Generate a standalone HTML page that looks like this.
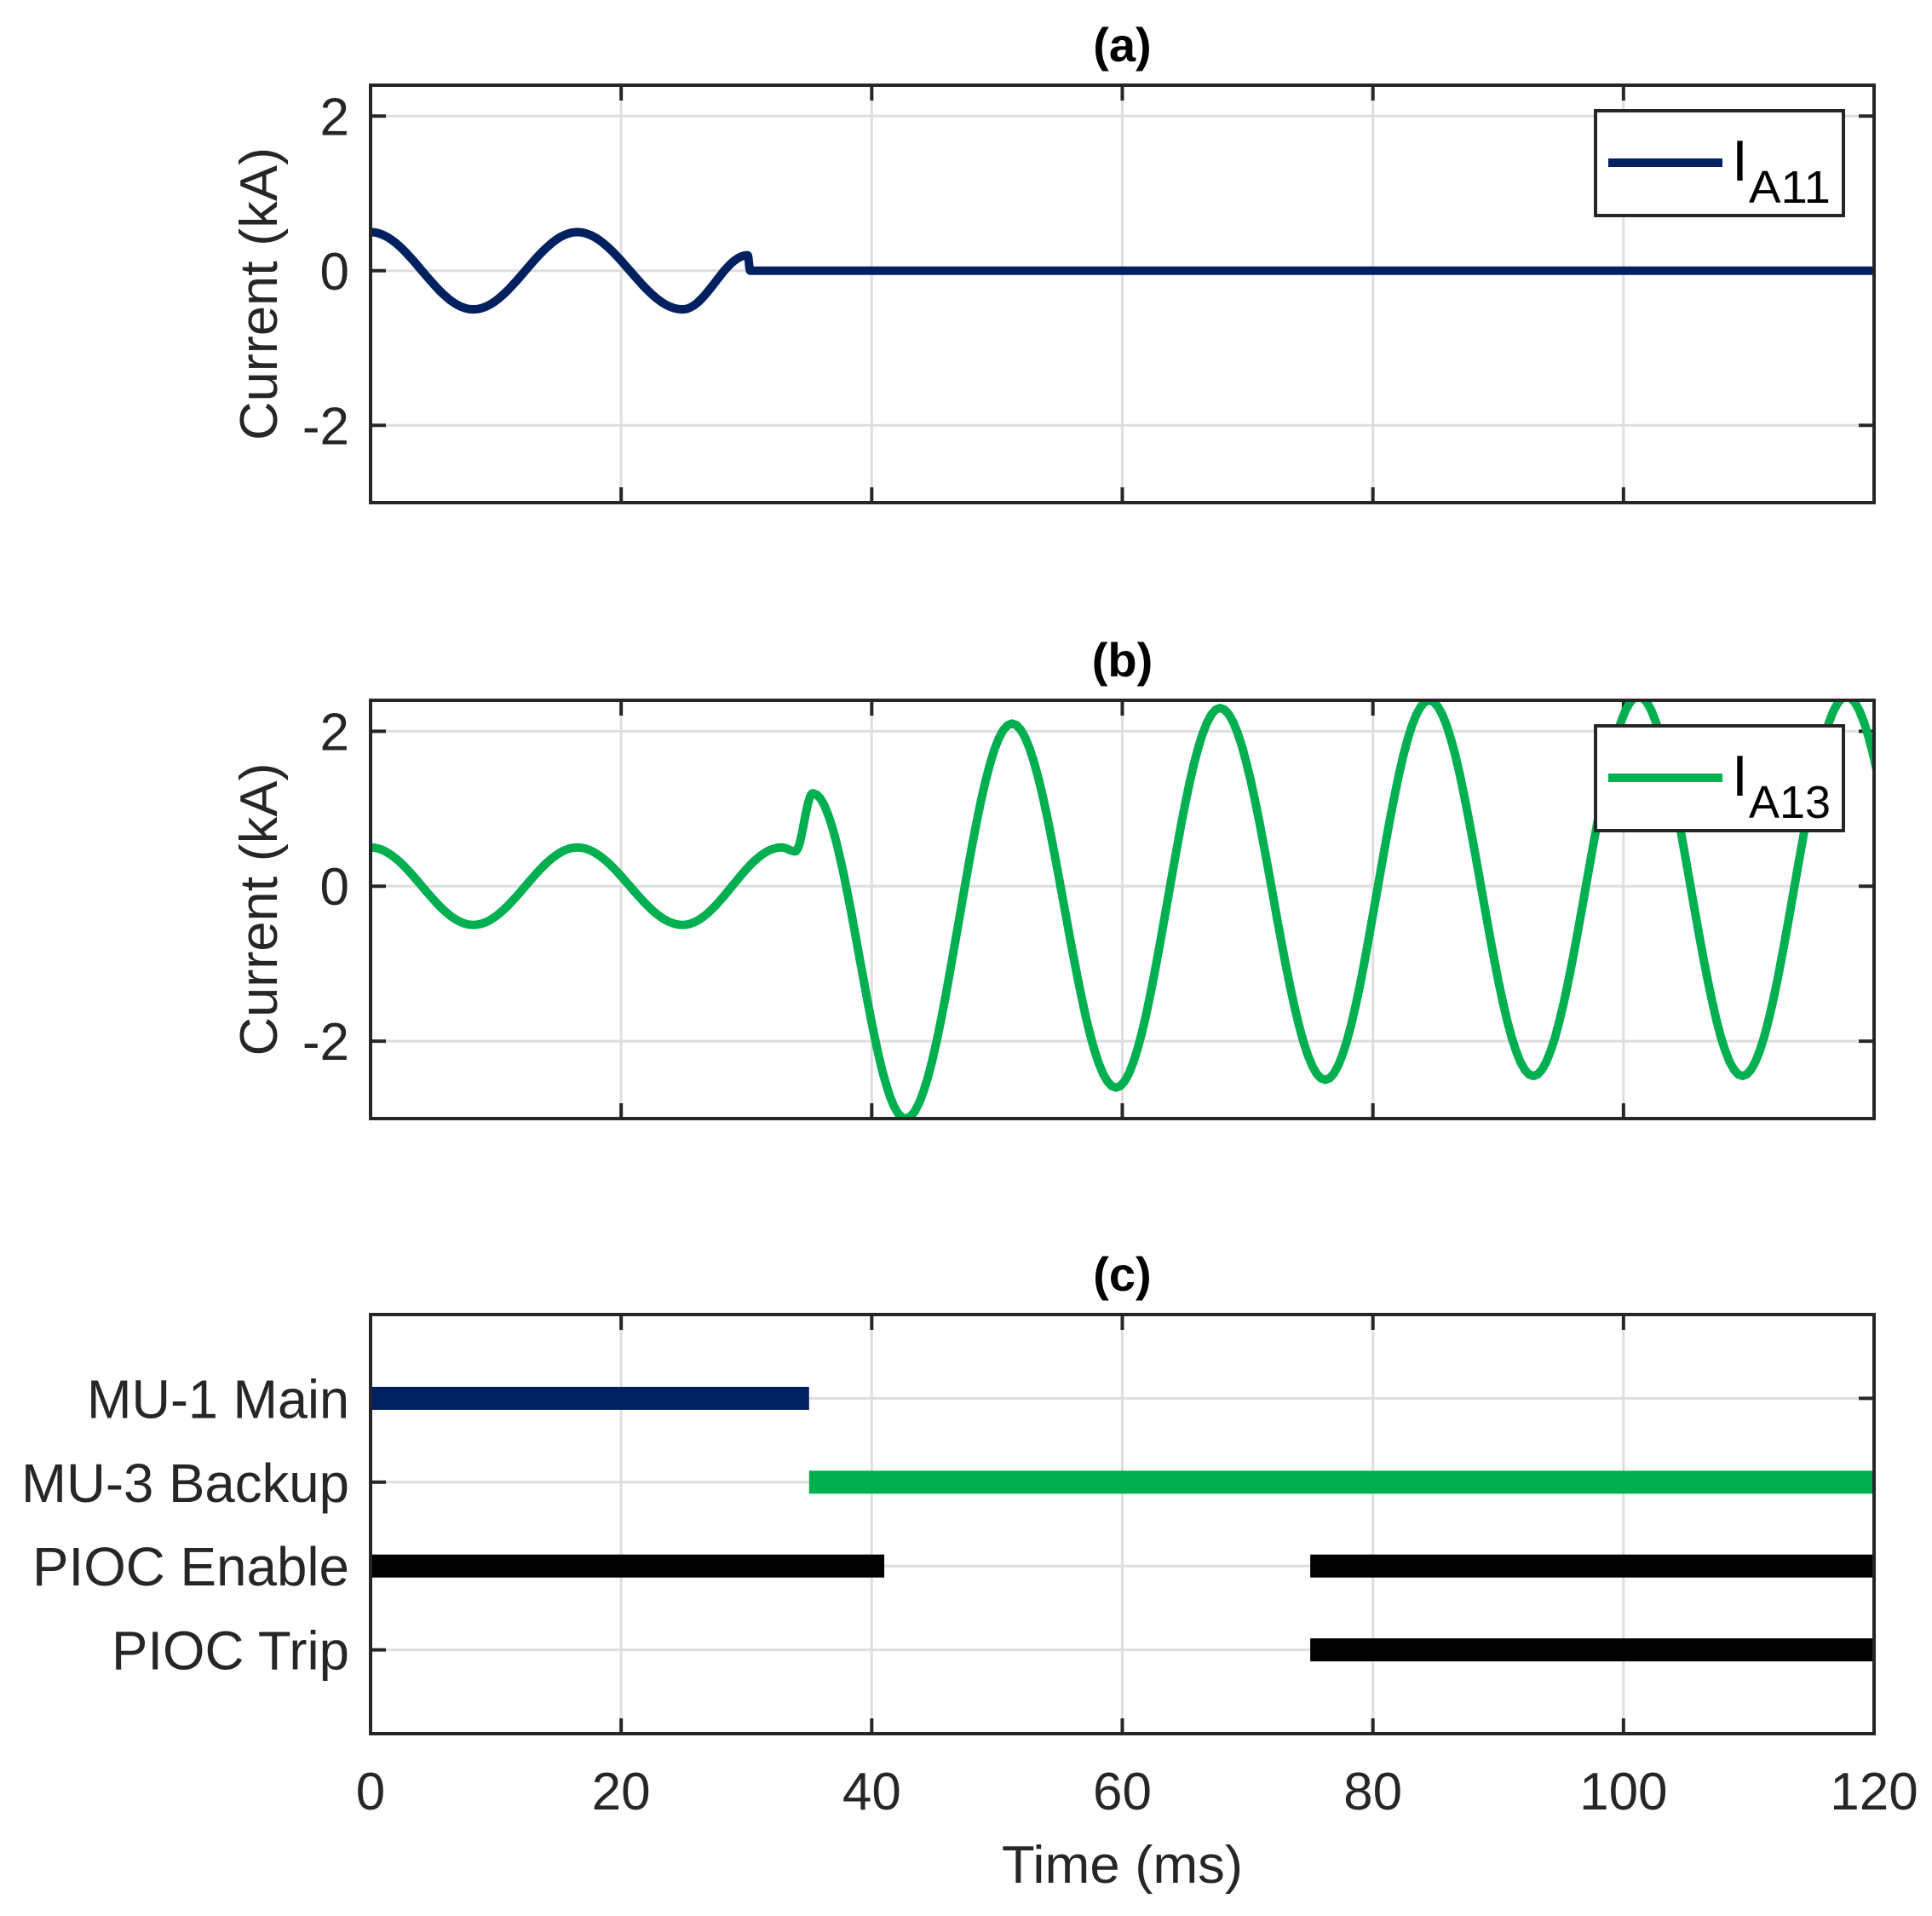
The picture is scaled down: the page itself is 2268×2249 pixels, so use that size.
<!DOCTYPE html>
<html><head><meta charset="utf-8"><style>
html,body{margin:0;padding:0;background:#fff;}
svg{display:block;font-family:"Liberation Sans",Arial,sans-serif;}
</style></head><body>
<svg id="fig" width="2268" height="2249" viewBox="0 0 2268 2249" xmlns="http://www.w3.org/2000/svg">
<defs>
<clipPath id="clipA"><rect x="435" y="100" width="1765" height="490"/></clipPath>
<clipPath id="clipB"><rect x="435" y="822" width="1765" height="491"/></clipPath>
</defs>
<g id="root"></g>
</svg>
<script>
// ---- data ----
const xTicks = [0, 20, 40, 60, 80, 100, 120];
const yTicks = [-2, 0, 2];
// panel (a) I_A11 key points (time ms, current kA)
const tA = [0, 8.2, 16.5, 24.9, 30.1, 30.3, 120];
const iA = [0.5, -0.5, 0.5, -0.5, 0.2, 0.0, 0.0];
// panel (b) I_A13 key points (extrema)
const tB = [0, 8.2, 16.5, 24.9, 32.8, 33.9, 35.3, 42.7, 51.2, 59.5, 67.8, 76.2, 84.5, 92.8, 101.2, 109.5, 117.8, 126.1];
const iB = [0.5, -0.5, 0.5, -0.5, 0.5, 0.45, 1.2, -3.0, 2.1, -2.6, 2.3, -2.5, 2.4, -2.45, 2.45, -2.45, 2.45, -2.45];
// panel (c) signals
const signals = ["MU-1 Main", "MU-3 Backup", "PIOC Enable", "PIOC Trip"];
const labelWidth = [308, 385, 372, 279];
const barStart = [0, 35, 0, 75, 75];
const barEnd   = [35, 120, 41, 120, 120];
const barRow   = [0, 1, 2, 2, 3];
const barColor = ["#002060", "#00B050", "#000000", "#000000", "#000000"];

const NS = "http://www.w3.org/2000/svg";
const root = document.getElementById("root");
function el(tag, attrs, parent, text) {
  const e = document.createElementNS(NS, tag);
  for (const k in attrs) e.setAttribute(k, attrs[k]);
  if (text !== undefined) e.textContent = text;
  (parent || root).appendChild(e);
  return e;
}
const X0 = 435, X1 = 2200;
const xs = t => X0 + (t / 120) * (X1 - X0);
const panels = [
  {top: 100, bot: 590, title: "(a)", name: "panel-a"},
  {top: 822, bot: 1313, title: "(b)", name: "panel-b"},
  {top: 1543, bot: 2035, title: "(c)", name: "panel-c"}
];
function ysFor(p) { return v => p.top + (2.4 - v) / 5.4 * (p.bot - p.top); }

function curve(ts, vs, ys) {
  let d = "M" + xs(ts[0]).toFixed(1) + "," + ys(vs[0]).toFixed(1);
  for (let i = 0; i < ts.length - 1; i++) {
    const n = 24;
    for (let k = 1; k <= n; k++) {
      const f = k / n;
      const w = (1 - Math.cos(Math.PI * f)) / 2;
      const t = ts[i] + (ts[i + 1] - ts[i]) * f;
      const v = vs[i] + (vs[i + 1] - vs[i]) * w;
      d += "L" + xs(t).toFixed(1) + "," + ys(v).toFixed(1);
    }
  }
  return d;
}

panels.forEach((p, pi) => {
  const g = el("g", {});
  
  
  xTicks.forEach(t => {
    const gl = el("line", {x1: xs(t), x2: xs(t), y1: p.top, y2: p.bot, stroke: "#dedede", "stroke-width": 3}, g);
    
    
  });
  let ys, rowY = [];
  if (pi < 2) {
    ys = ysFor(p);
    yTicks.forEach(v => {
      const gl = el("line", {x1: X0, x2: X1, y1: ys(v), y2: ys(v), stroke: "#dedede", "stroke-width": 3}, g);
      
      
      el("line", {x1: X0, x2: X0 + 18, y1: ys(v), y2: ys(v), stroke: "#262626", "stroke-width": 4}, g);
      el("line", {x1: X1 - 18, x2: X1, y1: ys(v), y2: ys(v), stroke: "#262626", "stroke-width": 4}, g);
      const tl = el("text", {x: 410, y: ys(v) + 22, "text-anchor": "end", "font-size": 62, fill: "#262626"}, g, String(v));
      
      
    });
    const yl = el("text", {x: 0, y: 0, transform: "translate(325," + ((p.top + p.bot) / 2) + ") rotate(-90)", "text-anchor": "middle", "font-size": 62, fill: "#262626", textLength: 344, lengthAdjust: "spacingAndGlyphs"}, g, "Current (kA)");
    
    
  } else {
    const rs = (p.bot - p.top) / 5;
    signals.forEach((s, i) => {
      const y = p.top + rs * (i + 1);
      rowY.push(y);
      const gl = el("line", {x1: X0, x2: X1, y1: y, y2: y, stroke: "#dedede", "stroke-width": 3}, g);
      
      
      el("line", {x1: X0, x2: X0 + 18, y1: y, y2: y, stroke: "#262626", "stroke-width": 4}, g);
      el("line", {x1: X1 - 18, x2: X1, y1: y, y2: y, stroke: "#262626", "stroke-width": 4}, g);
      const tl = el("text", {x: 410, y: y + 23, "text-anchor": "end", "font-size": 64, fill: "#262626", textLength: labelWidth[i], lengthAdjust: "spacingAndGlyphs"}, g, s);
      
      
    });
    barStart.forEach((s, i) => {
      const b = el("rect", {x: xs(s), y: rowY[barRow[i]] - 13.5, width: xs(barEnd[i]) - xs(s), height: 27, fill: barColor[i]}, g);
      
      
    });
    xTicks.forEach(t => {
      const tl = el("text", {x: xs(t), y: 2124, "text-anchor": "middle", "font-size": 62, fill: "#262626"}, g, String(t));
      
      
    });
    const xl = el("text", {x: (X0 + X1) / 2, y: 2210, "text-anchor": "middle", "font-size": 62, fill: "#262626", textLength: 283, lengthAdjust: "spacingAndGlyphs"}, g, "Time (ms)");
    
    
  }
  xTicks.forEach(t => {
    el("line", {x1: xs(t), x2: xs(t), y1: p.bot, y2: p.bot - 18, stroke: "#262626", "stroke-width": 4}, g);
    el("line", {x1: xs(t), x2: xs(t), y1: p.top, y2: p.top + 18, stroke: "#262626", "stroke-width": 4}, g);
  });
  if (pi < 2) {
    const path = el("path", {d: pi === 0 ? curve(tA, iA, ys) : curve(tB, iB, ys), fill: "none", stroke: pi === 0 ? "#002060" : "#00B050", "stroke-width": 10, "stroke-linejoin": "round", "clip-path": pi === 0 ? "url(#clipA)" : "url(#clipB)"}, g);
    
    
  }
  const box = el("rect", {x: X0, y: p.top, width: X1 - X0, height: p.bot - p.top, fill: "none", stroke: "#262626", "stroke-width": 4}, g);
  
  
  const tt = el("text", {x: (X0 + X1) / 2, y: p.top - 28, "text-anchor": "middle", "font-size": 56, "font-weight": "bold", fill: "#000"}, g, p.title);
  
  
  if (pi < 2) {
    const ly = pi === 0 ? 130 : 852;
    const lg = el("g", {}, g);
    
    
    el("rect", {x: 1873, y: ly, width: 291, height: 123, fill: "#fff", stroke: "#262626", "stroke-width": 4}, lg);
    el("line", {x1: 1888, x2: 2022, y1: ly + 61, y2: ly + 61, stroke: pi === 0 ? "#002060" : "#00B050", "stroke-width": 10}, lg);
    const lt = el("text", {x: 2033, y: ly + 82, "font-size": 68, fill: "#000"}, lg, "I");
    
    
    el("text", {x: 2053, y: ly + 108, "font-size": 54, fill: "#000", textLength: 96, lengthAdjust: "spacingAndGlyphs"}, lg, pi === 0 ? "A11" : "A13");
  }
});
</script>
</body></html>
